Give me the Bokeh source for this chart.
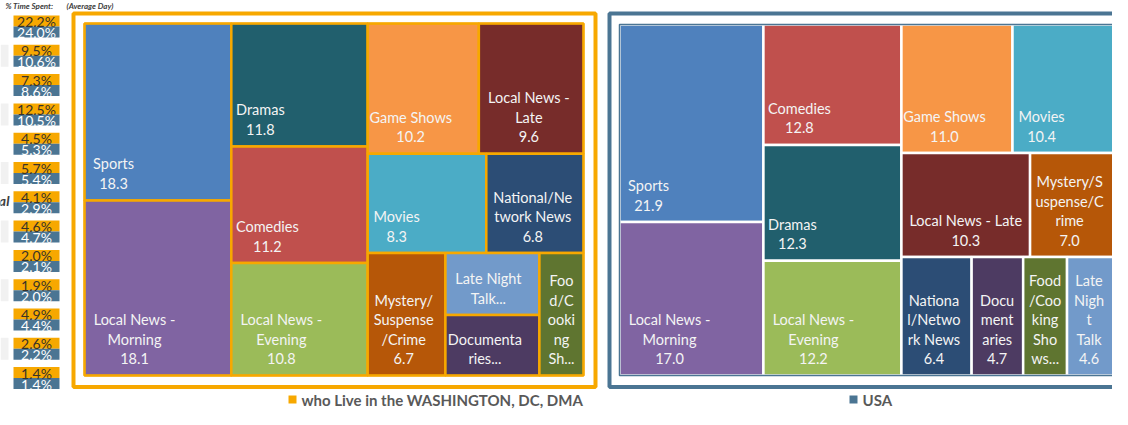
from bokeh.plotting import figure
from bokeh.models import Range1d
from bokeh.embed import file_html
from bokeh.resources import INLINE
from bokeh.core.properties import value

# ---------------- DATA ----------------
dc_genres = ["Sports", "Local News - Morning", "Dramas", "Comedies", "Local News - Evening",
             "Game Shows", "Local News - Late", "Movies", "National/Network News",
             "Mystery/Suspense/Crime", "Late Night Talk Shows", "Documentaries", "Food/Cooking Shows"]
dc_values = [18.3, 18.1, 11.8, 11.2, 10.8, 10.2, 9.6, 8.3, 6.8, 6.7, 4.1, 4.0, 3.8]
dc_wrapped = ["Sports", "Local News -\nMorning", "Dramas", "Comedies", "Local News -\nEvening",
              "Game Shows", "Local News -\nLate", "Movies", "National/Ne\ntwork News",
              "Mystery/\nSuspense\n/Crime", "Late Night\nTalk...", "Documenta\nries...",
              "Foo\nd/C\nooki\nng\nSh..."]

usa_genres = ["Sports", "Local News - Morning", "Comedies", "Dramas", "Local News - Evening",
              "Game Shows", "Movies", "Local News - Late", "Mystery/Suspense/Crime",
              "National/Network News", "Documentaries", "Food/Cooking Shows", "Late Night Talk Shows"]
usa_values = [21.9, 17.0, 12.8, 12.3, 12.2, 11.0, 10.4, 10.3, 7.0, 6.4, 4.7, 4.0, 4.6]
usa_wrapped = ["Sports", "Local News -\nMorning", "Comedies", "Dramas", "Local News -\nEvening",
               "Game Shows", "Movies", "Local News - Late", "Mystery/S\nuspense/C\nrime",
               "Nationa\nl/Netwo\nrk News", "Docu\nment\naries", "Food\n/Coo\nking\nSho\nws...",
               "Late\nNigh\nt\nTalk"]

badge_dc = [22.2, 9.5, 7.3, 12.5, 4.5, 5.7, 4.1, 4.6, 2.0, 1.9, 4.9, 2.6, 1.4]
badge_usa = [24.0, 10.6, 8.6, 10.5, 5.3, 5.4, 2.9, 4.7, 2.1, 2.0, 4.4, 2.2, 1.4]

header_labels = ["% Time Spent:", "(Average Day)"]
legend_labels = ["who Live in the WASHINGTON, DC, DMA", "USA"]

# ---------------- STYLE ----------------
genre_colors = {
    "Sports": "#4F81BD",
    "Local News - Morning": "#8064A2",
    "Dramas": "#215F6D",
    "Comedies": "#C0504D",
    "Local News - Evening": "#9BBB59",
    "Game Shows": "#F79646",
    "Local News - Late": "#772C2A",
    "Movies": "#4BACC6",
    "National/Network News": "#2C4D75",
    "Mystery/Suspense/Crime": "#B65708",
    "Late Night Talk Shows": "#729ACA",
    "Documentaries": "#4D3B62",
    "Food/Cooking Shows": "#5F7530",
}
ORANGE = "#F7A800"
SLATE = "#4B7593"
FONT = value("Lato")

# slice-and-dice structures (indices into the data lists)
dc_struct = ("h", [("v", [0, 1]), ("v", [2, 3, 4]),
                   ("v", [("h", [5, 6]), ("h", [7, 8]), ("h", [9, ("v", [10, 11]), 12])])])
usa_struct = ("h", [("v", [0, 1]), ("v", [2, 3, 4]),
                    ("v", [("h", [5, 6]), ("h", [7, 8]), ("h", [9, 10, 11, 12])])])


def node_size(node, vals):
    if isinstance(node, int):
        return vals[node]
    return sum(node_size(c, vals) for c in node[1])


def layout(node, vals, x0, y0, x1, y1, out):
    if isinstance(node, int):
        out[node] = (x0, y0, x1, y1)
        return
    d, kids = node
    tot = node_size(node, vals)
    pos = x0 if d == "h" else y0
    for k in kids:
        s = node_size(k, vals) / tot
        if d == "h":
            w = (x1 - x0) * s
            layout(k, vals, pos, y0, pos + w, y1, out)
            pos += w
        else:
            h = (y1 - y0) * s
            layout(k, vals, x0, pos, x1, pos + h, out)
            pos += h


p = figure(width=1112, height=409, output_backend="svg", toolbar_location=None,
           x_range=Range1d(0, 1112), y_range=Range1d(409, 0), min_border=0)
p.axis.visible = False
p.grid.visible = False
p.outline_line_color = None
p.background_fill_color = "white"
p.border_fill_color = "white"


def draw_treemap(genres, vals, wrapped, struct, box, gap_color, outline_color):
    rects = {}
    layout(struct, vals, *box, rects)
    L, R, T, B, C = [], [], [], [], []
    tx, ty, tt = [], [], []
    for i, g in enumerate(genres):
        x0, y0, x1, y1 = rects[i]
        L.append(x0); R.append(x1); T.append(y0); B.append(y1); C.append(genre_colors[g])
        lines = wrapped[i].split("\n")
        if not lines[-1].endswith("..."):
            lines.append(f"{vals[i]:.1f}")
        n = len(lines)
        step = 19.5
        first = y1 - 17 - (n - 1) * step
        if n > 3:
            first = max(first, y0 + 20)
        wmax = max(len(s) for s in lines) * 7.0
        cx = x0 + 8 + wmax / 2 if wmax + 16 < (x1 - x0) else (x0 + x1) / 2
        for j, s in enumerate(lines):
            tx.append(cx); ty.append(first + j * step); tt.append(s)
    p.quad(left=L, right=R, top=T, bottom=B, fill_color=C, line_color=gap_color, line_width=2.5)
    p.quad(left=[box[0]], right=[box[2]], top=[box[1]], bottom=[box[3]], fill_alpha=0,
           line_color=outline_color, line_width=1.5)
    p.text(x=tx, y=ty, text=tt, text_align="center", text_baseline="middle",
           text_font=FONT, text_font_size="14.5px", text_color="#F4F4F4")


# faint alternating row bands at far left
n = len(badge_dc)
mid = [26 + i * 29.3 for i in range(n)]
band_rows = [m for i, m in enumerate(mid) if i % 2 == 1]
p.quad(left=[0] * len(band_rows), right=[8] * len(band_rows), top=[m - 11 for m in band_rows],
       bottom=[m + 11 for m in band_rows], fill_color="#F1F1F1", line_color=None)
p.text(x=[9], y=[200], text=["al"], text_align="right", text_baseline="middle", text_font=FONT,
       text_font_size="14px", text_font_style="bold italic", text_color="#404040")

# frames
p.quad(left=[73], right=[595], top=[13], bottom=[386.5], fill_alpha=0, line_color=ORANGE, line_width=4)
p.quad(left=[609], right=[1128], top=[13], bottom=[386.5], fill_alpha=0, line_color=SLATE, line_width=4)

draw_treemap(dc_genres, dc_values, dc_wrapped, dc_struct, (84, 23, 583, 375), ORANGE, ORANGE)
draw_treemap(usa_genres, usa_values, usa_wrapped, usa_struct, (619, 24, 1117, 375), "white", SLATE)

# header
p.text(x=[5, 66], y=[5, 5], text=header_labels, text_align="left", text_baseline="middle",
       text_font=FONT, text_font_size="8px", text_font_style="bold italic", text_color="#404040")

# badges column
p.quad(left=[13] * n, right=[59] * n, top=[m - 11 for m in mid], bottom=mid, fill_color=ORANGE, line_color=None)
p.quad(left=[13] * n, right=[59] * n, top=mid, bottom=[m + 11 for m in mid], fill_color=SLATE, line_color=None)
p.text(x=[36] * n, y=[m - 5 for m in mid], text=[f"{v:.1f}%" for v in badge_dc], text_align="center",
       text_baseline="middle", text_font=FONT, text_font_size="14px", text_color="#3A3328")
p.text(x=[36] * n, y=[m + 6 for m in mid], text=[f"{v:.1f}%" for v in badge_usa], text_align="center",
       text_baseline="middle", text_font=FONT, text_font_size="14px", text_color="white")

# legend (kept inside the drawable area)
p.quad(left=[288, 849], right=[296, 857], top=[395, 395], bottom=[403, 403],
       fill_color=[ORANGE, SLATE], line_color=None)
p.text(x=[301, 862], y=[399.5, 399.5], text=legend_labels, text_align="left", text_baseline="middle",
       text_font=FONT, text_font_size="15px", text_font_style="bold", text_color="#595959")

open("out.html", "w").write(file_html(p, INLINE))
